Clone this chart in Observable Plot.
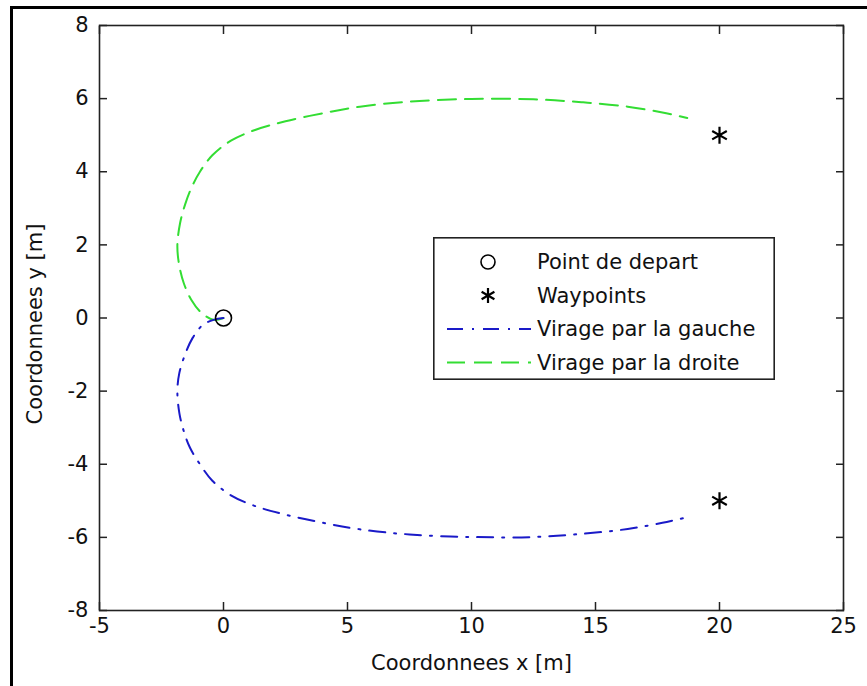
<!DOCTYPE html>
<html><head><meta charset="utf-8">
<script src="https://cdn.jsdelivr.net/npm/d3@7"></script>
<script src="https://cdn.jsdelivr.net/npm/@observablehq/plot@0.6"></script>
<style>
body{margin:0;background:#fff;}
#wrap{position:relative;width:867px;height:686px;overflow:hidden;font-family:"DejaVu Sans",sans-serif;}
#border{position:absolute;left:10px;top:6px;right:-10px;bottom:-10px;border-left:3px solid #000;border-top:3px solid #000;pointer-events:none;}
#legend{position:absolute;left:433px;top:237px;}
</style></head>
<body>
<div id="wrap"><div id="chart"></div><div id="legend"></div><div id="border"></div></div>
<script>
// ---- data ----
const xTicks = [-5, 0, 5, 10, 15, 20, 25];
const yTicks = [-8, -6, -4, -2, 0, 2, 4, 6, 8];
const startX = [0];
const startY = [0];
const waypointX = [20, 20];
const waypointY = [5, -5];
const leftTurnX = [0, -0.4, -0.85, -1.25, -1.55, -1.78, -1.86, -1.78, -1.6, -1.35, -0.95, -0.45, 0.3, 1.3, 2.5, 4.0, 5.5, 7.5, 10.0, 12.5, 14.5, 16.3, 17.7, 18.7];
const leftTurnY = [0, -0.05, -0.2, -0.55, -1.0, -1.5, -2.0, -2.6, -3.1, -3.55, -4.0, -4.45, -4.85, -5.15, -5.38, -5.6, -5.78, -5.92, -5.99, -5.99, -5.9, -5.77, -5.6, -5.45];
const rightTurnX = [0, -0.4, -0.9, -1.3, -1.6, -1.8, -1.86, -1.75, -1.55, -1.3, -0.95, -0.45, 0.3, 1.3, 2.5, 4.0, 5.5, 7.5, 10.0, 12.5, 14.5, 16.3, 17.7, 18.7];
const rightTurnY = [0, -0.05, 0.15, 0.5, 0.95, 1.5, 2.0, 2.6, 3.1, 3.55, 4.0, 4.45, 4.85, 5.15, 5.38, 5.6, 5.78, 5.92, 5.99, 5.98, 5.9, 5.78, 5.62, 5.47];
const legendLabels = ["Point de depart", "Waypoints", "Virage par la gauche", "Virage par la droite"];
const xLabel = "Coordonnees x [m]";
const yLabel = "Coordonnees y [m]";

// ---- style ----
const FONT = "DejaVu Sans, sans-serif";
const FS = 21;
const BLUE = "#1a1ac8";
const GREEN = "#33dd33";
const BLUE_DASH = "16,9,2,9";
const GREEN_DASH = "18,9";

const start = startX.map((x, i) => ({x, y: startY[i]}));
const waypoints = waypointX.map((x, i) => ({x, y: waypointY[i]}));
const leftTurn = leftTurnX.map((x, i) => ({x, y: leftTurnY[i]}));
const rightTurn = rightTurnX.map((x, i) => ({x, y: rightTurnY[i]}));
const fmt = d => String(d);

const chart = Plot.plot({
  width: 867, height: 686,
  marginLeft: 99, marginRight: 24, marginTop: 25, marginBottom: 76,
  x: {domain: [-5, 25]},
  y: {domain: [-8, 8]},
  style: {fontFamily: FONT, fontSize: FS + "px", color: "#111", background: "#fff"},
  marks: [
    Plot.frame({stroke: "#222", strokeWidth: 1.6}),
    Plot.axisX({anchor: "bottom", ticks: xTicks, tickSize: 0, tickPadding: 8, tickFormat: fmt, label: null, fontSize: FS}),
    Plot.axisX({anchor: "bottom", ticks: xTicks, tickSize: 8, dy: -8, tickFormat: () => "", label: null, stroke: "#222", strokeWidth: 1.5}),
    Plot.axisX({anchor: "top", ticks: xTicks, tickSize: 8, dy: 8, tickFormat: () => "", label: null, stroke: "#222", strokeWidth: 1.5}),
    Plot.axisY({anchor: "left", ticks: yTicks, tickSize: 0, tickPadding: 11, tickFormat: fmt, label: null, fontSize: FS}),
    Plot.axisY({anchor: "left", ticks: yTicks, tickSize: 8, dx: 8, tickFormat: () => "", label: null, stroke: "#222", strokeWidth: 1.5}),
    Plot.axisY({anchor: "right", ticks: yTicks, tickSize: 8, dx: -8, tickFormat: () => "", label: null, stroke: "#222", strokeWidth: 1.5}),
    Plot.line(rightTurn, {x: "x", y: "y", stroke: GREEN, strokeWidth: 2, strokeDasharray: GREEN_DASH, curve: "catmull-rom"}),
    Plot.line(leftTurn, {x: "x", y: "y", stroke: BLUE, strokeWidth: 2, strokeDasharray: BLUE_DASH, curve: "catmull-rom"}),
    Plot.dot(start, {x: "x", y: "y", r: 8, stroke: "#000", strokeWidth: 1.6, fill: "none"}),
    Plot.dot(waypoints, {x: "x", y: "y", symbol: "asterisk", r: 8, stroke: "#000", strokeWidth: 2.2}),
    Plot.text([xLabel], {text: d => d, frameAnchor: "bottom", lineAnchor: "middle", textAnchor: "middle", dy: 53, fontSize: FS, fill: "#111"}),
    Plot.text([yLabel], {text: d => d, frameAnchor: "left", textAnchor: "middle", lineAnchor: "middle", dx: -64, dy: 6, rotate: -90, fontSize: FS, fill: "#111"})
  ]
});
document.getElementById("chart").appendChild(chart);

// ---- legend (inside the axes) ----
const LW = 342, LH = 143;
const lsvg = d3.select("#legend").append("svg").attr("width", LW).attr("height", LH)
  .style("font-family", FONT).style("font-size", FS + "px");
lsvg.append("rect").attr("x", 0.8).attr("y", 0.8).attr("width", LW - 1.6).attr("height", LH - 1.6)
  .attr("fill", "#fff").attr("stroke", "#222").attr("stroke-width", 1.6);
const kinds = ["circle", "asterisk", "blue", "green"];
legendLabels.forEach((lab, i) => {
  const cy = 25 + i * 33.5;
  const g = lsvg.append("g");
  if (kinds[i] === "circle") {
    g.append("circle").attr("cx", 55).attr("cy", cy).attr("r", 7).attr("fill", "none").attr("stroke", "#000").attr("stroke-width", 1.6);
  } else if (kinds[i] === "asterisk") {
    g.append("path").attr("transform", `translate(55,${cy})`).attr("d", d3.symbol(d3.symbolAsterisk, Math.PI * 49)())
      .attr("fill", "none").attr("stroke", "#000").attr("stroke-width", 2.2);
  } else {
    g.append("line").attr("x1", 14).attr("x2", 98).attr("y1", cy).attr("y2", cy)
      .attr("stroke", kinds[i] === "blue" ? BLUE : GREEN).attr("stroke-width", 2)
      .attr("stroke-dasharray", kinds[i] === "blue" ? BLUE_DASH : GREEN_DASH);
  }
  g.append("text").attr("x", 104).attr("y", cy).attr("dy", "0.35em").attr("fill", "#111").text(lab);
});
</script>
</body></html>
